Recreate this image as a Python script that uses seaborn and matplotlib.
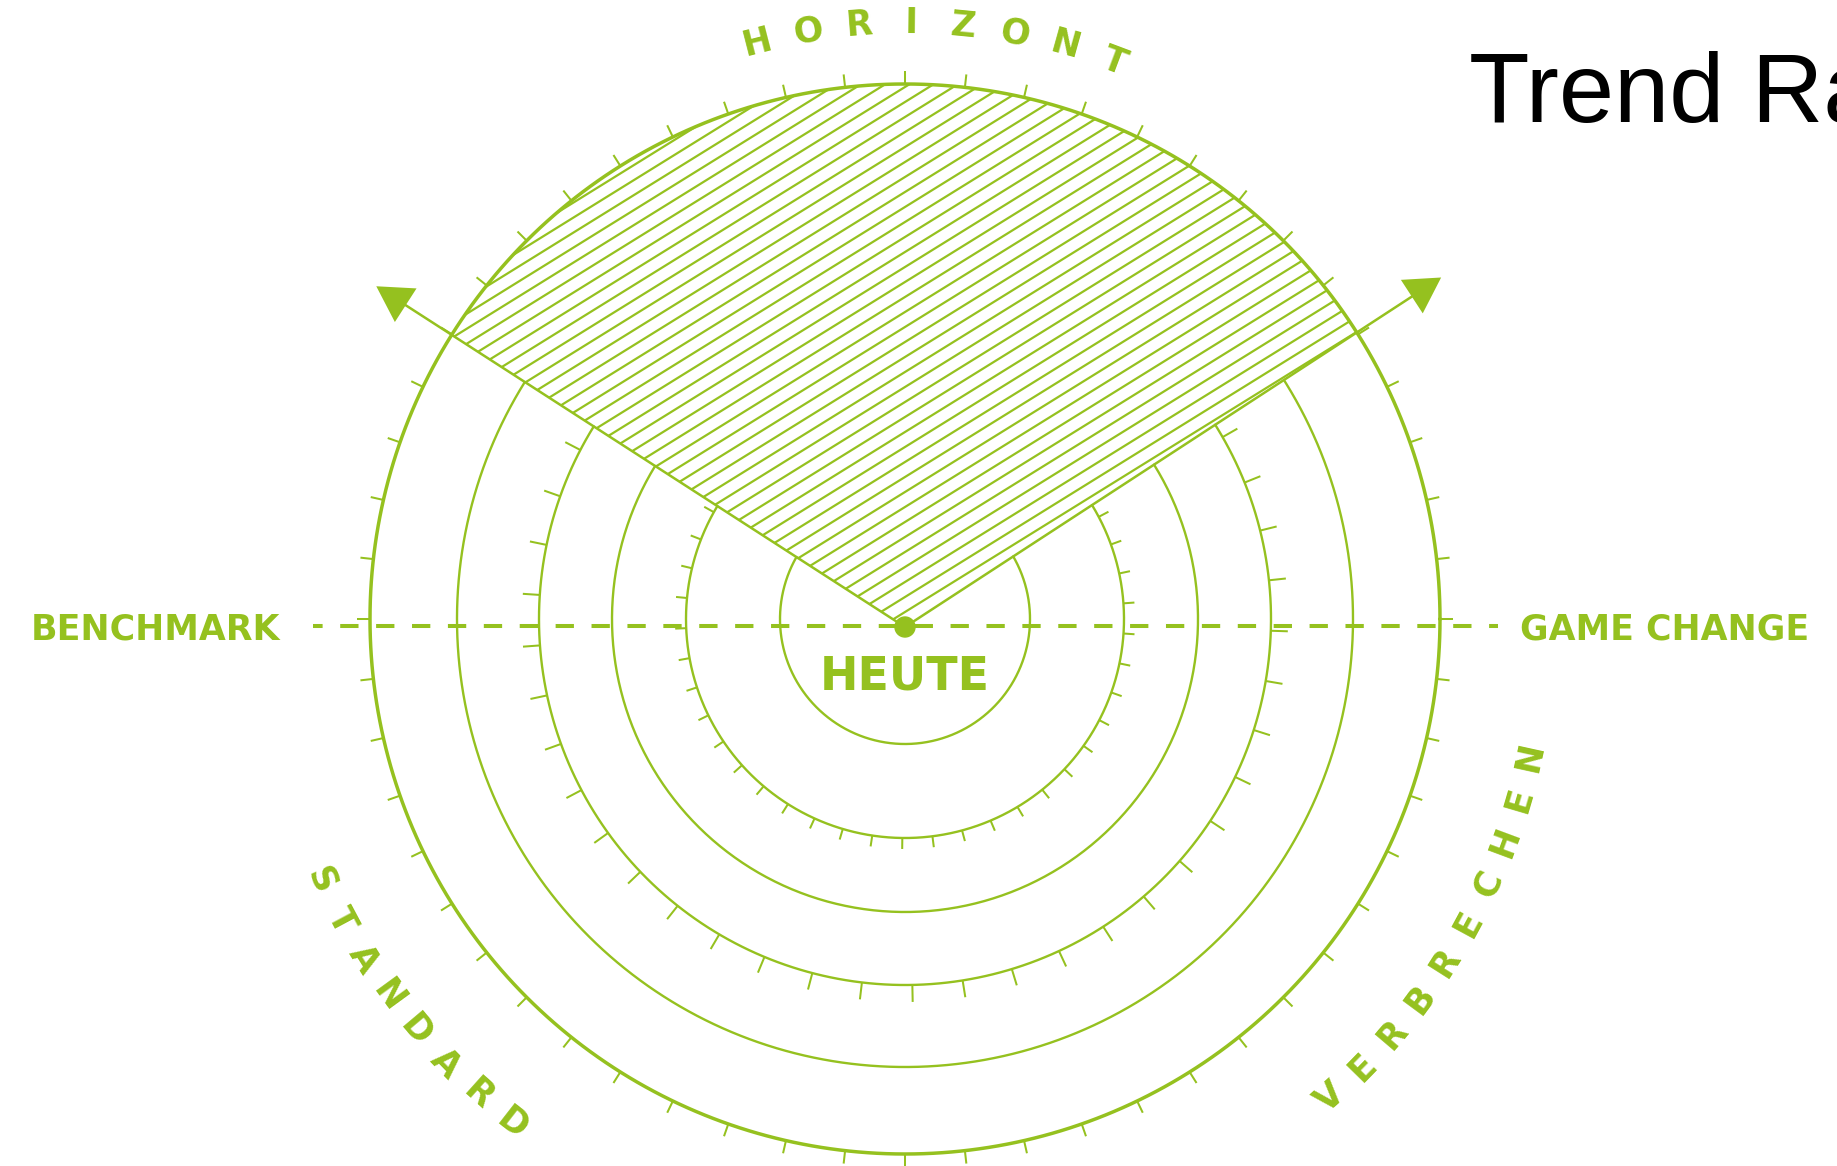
import numpy as np
import matplotlib
matplotlib.use("Agg")
import matplotlib.pyplot as plt
import seaborn as sns
from matplotlib.collections import LineCollection
from matplotlib.patches import Polygon, Circle

# open rings of the radar (radius in px), the rim is drawn all round
ring_radii = [125, 219, 293, 366, 448]
rim_radius = 535
rim_tick_count = 56

# rings with tick marks: radius, step (deg), one tick angle (deg), tick length
tick_ring_radii = [219, 366]
tick_ring_steps = [7.9, 7.91]
tick_ring_starts = [-90.7, 29.8]
tick_ring_lengths = [11, 17]

# the hatched sector: right / left arrow angle and reach
arrow_angles = [33.1, 147.2]
arrow_lengths = [640, 629]
hatch_angle = 31.8
hatch_gap = 15.0

# labels
side_labels = ["BENCHMARK", "GAME CHANGE"]
side_label_x = [155, 1665]
center_label = "HEUTE"
title = "Trend Ra"
arc_words = ["HORIZONT", "STANDARD", "VERBRECHEN"]
arc_word_radii = [598, 637, 638]
arc_word_start = [104.4, 204.1, -48.4]
arc_word_step = [-5.0, 4.0, 4.0]
arc_word_outward = [True, False, False]

GREEN = "#95c11f"
W, H = 1837, 1166
cx, cy = 905, 619      # centre of the rings
px0, py0 = 905, 627    # dot "heute" = apex of the sector

sns.set_theme(style="white")
plt.rcParams["font.family"] = ["DejaVu Sans"]
plt.rcParams["lines.scale_dashes"] = False

fig = plt.figure(figsize=(W / 100, H / 100), dpi=100)
ax = fig.add_axes([0, 0, 1, 1])


def on_ring(r, a):
    a = np.radians(a)
    return cx + r * np.cos(a), cy - r * np.sin(a)


def ray_hit(r, phi):
    # where the ray from the apex meets ring r, angle seen from the centre
    s, c = np.sin(np.radians(phi)), np.cos(np.radians(phi))
    off = py0 - cy
    t = off * s + np.sqrt((off * s) ** 2 - off ** 2 + r ** 2)
    x, y = px0 + t * c, py0 - t * s
    return np.degrees(np.arctan2(cy - y, x - cx)), (x, y)


right_deg, left_deg = arrow_angles

# hatched sector
aR, hitR = ray_hit(rim_radius, right_deg)
aL, hitL = ray_hit(rim_radius, left_deg)
rx, ry = on_ring(rim_radius, np.linspace(aR, aL, 200))
sector = np.vstack([[px0, py0], hitR, np.column_stack([rx, ry]), hitL])
clip = Polygon(sector, closed=True, facecolor="none", edgecolor="none",
               transform=ax.transData)
ax.add_patch(clip)

d = np.array([np.cos(np.radians(hatch_angle)), -np.sin(np.radians(hatch_angle))])
segs = []
for k in range(1, 75):
    p0 = np.array([px0, py0 - k * hatch_gap])
    segs.append([p0 - 1500 * d, p0 + 1500 * d])
hatch = LineCollection(segs, colors=GREEN, linewidths=1.6, zorder=1)
ax.add_collection(hatch)
hatch.set_clip_path(clip)

# open rings
for r in ring_radii:
    a0, _ = ray_hit(r, left_deg)
    a1, _ = ray_hit(r, right_deg)
    xs, ys = on_ring(r, np.linspace(a0, a1 + 360, 400))
    sns.lineplot(x=xs, y=ys, sort=False, estimator=None, color=GREEN,
                 lw=1.7, ax=ax, zorder=2)

# rim
xs, ys = on_ring(rim_radius, np.linspace(0, 360, 721))
sns.lineplot(x=xs, y=ys, sort=False, estimator=None, color=GREEN,
             lw=2.5, ax=ax, zorder=2)

# ticks
ticks = []
for r, step, start, ln in zip(tick_ring_radii, tick_ring_steps,
                              tick_ring_starts, tick_ring_lengths):
    a0, _ = ray_hit(r, left_deg)
    a1, _ = ray_hit(r, right_deg)
    s0 = (start - a0) % 360 + a0
    for k in range(-50, 50):
        a = s0 + k * step
        if a0 <= a <= a1 + 360:
            ticks.append([on_ring(r, a), on_ring(r + ln, a)])
for k in range(rim_tick_count):
    a = k * 360 / rim_tick_count
    ticks.append([on_ring(rim_radius, a), on_ring(rim_radius + 13, a)])
ax.add_collection(LineCollection(ticks, colors=GREEN, linewidths=1.45, zorder=2))

# sector edges with arrow heads
for phi, L in zip(arrow_angles, arrow_lengths):
    u = np.array([np.cos(np.radians(phi)), -np.sin(np.radians(phi))])
    n = np.array([-u[1], u[0]])
    tip = np.array([px0, py0]) + L * u
    base = tip - 35 * u
    ax.plot([px0, base[0] + 2 * u[0]], [py0, base[1] + 2 * u[1]],
            color=GREEN, lw=1.8, zorder=3, solid_capstyle="butt")
    ax.add_patch(Polygon([tip, base + 20 * n, base - 20 * n], closed=True,
                         facecolor=GREEN, edgecolor="none", zorder=3))

# dashed axis and dot
ax.plot([313, 1498], [626, 626], color=GREEN, lw=2.9,
        linestyle=(6.26, (13.18, 12.67)), dash_capstyle="butt", zorder=4)
ax.add_patch(Circle((px0, py0), 10, color=GREEN, zorder=5))

# labels
ax.text(905, 690, center_label, ha="center", va="baseline", fontsize=33,
        fontweight="bold", color=GREEN, zorder=6)
for lab, x in zip(side_labels, side_label_x):
    ax.text(x, 639, lab, ha="center", va="baseline", fontsize=25,
            fontweight="bold", color=GREEN, zorder=6)

cap = 25
for word, r, a0, st, outward in zip(arc_words, arc_word_radii, arc_word_start,
                                    arc_word_step, arc_word_outward):
    for i, ch in enumerate(word):
        a = a0 + i * st
        if outward:
            rot, rb = a - 90, r - cap / 2
        else:
            rot, rb = a + 90, r + cap / 2
        x, y = on_ring(rb, a)
        ax.text(x, y, ch, rotation=rot, rotation_mode="anchor", ha="center",
                va="baseline", fontsize=25, fontweight="bold", color=GREEN,
                zorder=6)

ax.text(1469, 121.7, title, ha="left", va="baseline", fontsize=71.4,
        family=["Liberation Sans", "DejaVu Sans"], color="black")

ax.set_xlim(0, W)
ax.set_ylim(H, 0)
ax.axis("off")
fig.savefig("out.png", dpi=100, facecolor="white")
